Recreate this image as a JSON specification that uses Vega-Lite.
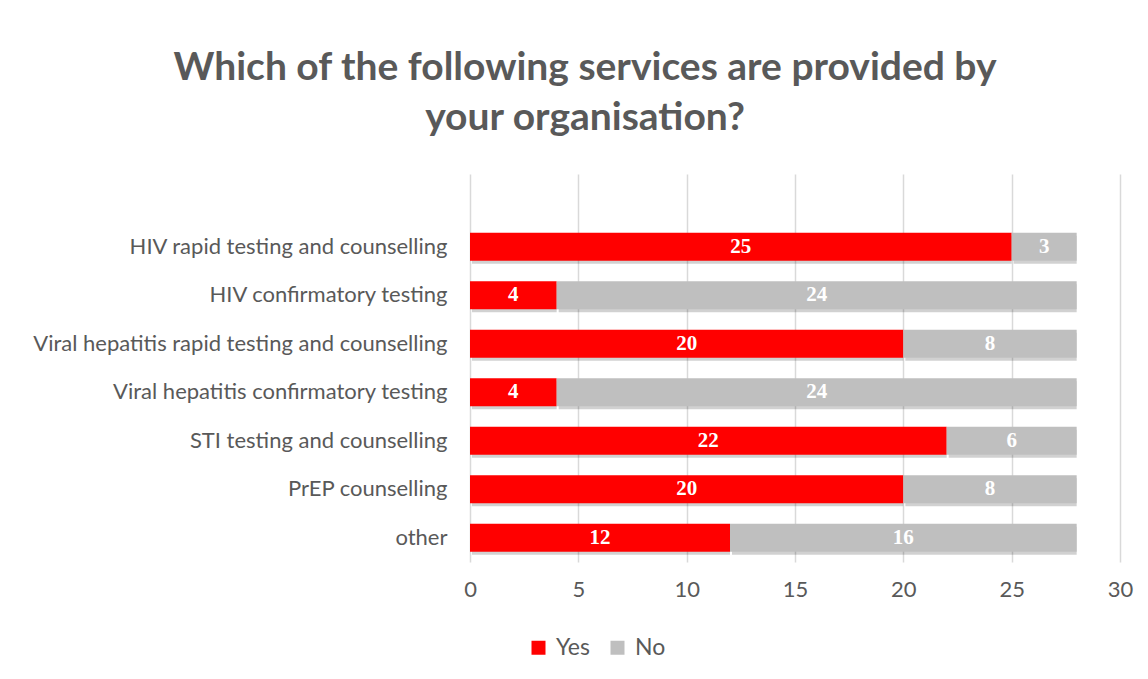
{
  "$schema": "https://vega.github.io/schema/vega-lite/v6.json",
  "width": 650,
  "height": 388,
  "autosize": {"type": "none"},
  "padding": {"left": 470, "top": 174, "right": 28, "bottom": 117},
  "background": "white",
  "config": {
    "font": "Lato",
    "view": {"stroke": null},
    "axisX": {"grid": true, "gridColor": "#D9D9D9", "gridWidth": 1.5, "domain": false, "ticks": false, "labelFontSize": 22, "labelColor": "#595959", "labelPadding": 17, "labelFont": "Lato", "labelFlush": false},
    "axisY": {"grid": false, "domain": false, "ticks": false, "labelFontSize": 22, "labelColor": "#595959", "labelPadding": 23, "labelFont": "Lato", "labelLimit": 500}
  },
  "title": {
    "text": ["Which of the following services are provided by", "your organisation?"],
    "fontSize": 39,
    "font": "Lato",
    "fontWeight": "bold",
    "color": "#595959",
    "anchor": "middle",
    "dx": -210,
    "offset": 36,
    "lineHeight": 50
  },
  "data": {
    "values": [
      {"category": "HIV rapid testing and counselling", "answer": "Yes", "value": 25},
      {"category": "HIV rapid testing and counselling", "answer": "No", "value": 3},
      {"category": "HIV confirmatory testing", "answer": "Yes", "value": 4},
      {"category": "HIV confirmatory testing", "answer": "No", "value": 24},
      {"category": "Viral hepatitis rapid testing and counselling", "answer": "Yes", "value": 20},
      {"category": "Viral hepatitis rapid testing and counselling", "answer": "No", "value": 8},
      {"category": "Viral hepatitis confirmatory testing\u00a0", "answer": "Yes", "value": 4},
      {"category": "Viral hepatitis confirmatory testing\u00a0", "answer": "No", "value": 24},
      {"category": "STI testing and counselling", "answer": "Yes", "value": 22},
      {"category": "STI testing and counselling", "answer": "No", "value": 6},
      {"category": "PrEP counselling", "answer": "Yes", "value": 20},
      {"category": "PrEP counselling", "answer": "No", "value": 8},
      {"category": "other", "answer": "Yes", "value": 12},
      {"category": "other", "answer": "No", "value": 16}
    ]
  },
  "transform": [
    {"stack": "value", "groupby": ["category"], "sort": [{"field": "answer", "order": "descending"}], "as": ["v0", "v1"]},
    {"calculate": "(datum.v0 + datum.v1) / 2", "as": "mid"}
  ],
  "encoding": {
    "y": {
      "field": "category",
      "type": "nominal",
      "title": null,
      "scale": {
        "domain": ["", "HIV rapid testing and counselling", "HIV confirmatory testing", "Viral hepatitis rapid testing and counselling", "Viral hepatitis confirmatory testing\u00a0", "STI testing and counselling", "PrEP counselling", "other"],
        "paddingInner": 0.42,
        "paddingOuter": 0.21
      }
    }
  },
  "layer": [
    {
      "mark": {"type": "bar", "color": "#000000", "opacity": 0.18, "xOffset": 2, "yOffset": 3},
      "encoding": {
        "x": {"field": "v0", "type": "quantitative", "title": null, "scale": {"domain": [0, 30]}, "axis": {"values": [0, 5, 10, 15, 20, 25, 30]}},
        "x2": {"field": "v1"}
      }
    },
    {
      "mark": {"type": "bar"},
      "encoding": {
        "x": {"field": "v0", "type": "quantitative", "title": null, "scale": {"domain": [0, 30]}, "axis": {"values": [0, 5, 10, 15, 20, 25, 30]}},
        "x2": {"field": "v1"},
        "color": {
          "field": "answer",
          "type": "nominal",
          "scale": {"domain": ["Yes", "No"], "range": ["#FF0000", "#BFBFBF"]},
          "legend": {
            "title": null,
            "orient": "none",
            "legendX": 57,
            "legendY": 462,
            "direction": "horizontal",
            "symbolType": "square",
            "symbolSize": 196,
            "symbolStrokeWidth": 0,
            "labelFontSize": 23,
            "labelColor": "#595959",
            "labelFont": "Lato",
            "labelOffset": 6,
            "columnPadding": 16
          }
        }
      }
    },
    {
      "mark": {"type": "text", "font": "Liberation Serif", "fontWeight": "bold", "fontSize": 21, "color": "white", "baseline": "middle"},
      "encoding": {
        "x": {"field": "mid", "type": "quantitative", "title": null, "axis": {"values": [0, 5, 10, 15, 20, 25, 30]}},
        "text": {"field": "value", "type": "quantitative"}
      }
    }
  ]
}
